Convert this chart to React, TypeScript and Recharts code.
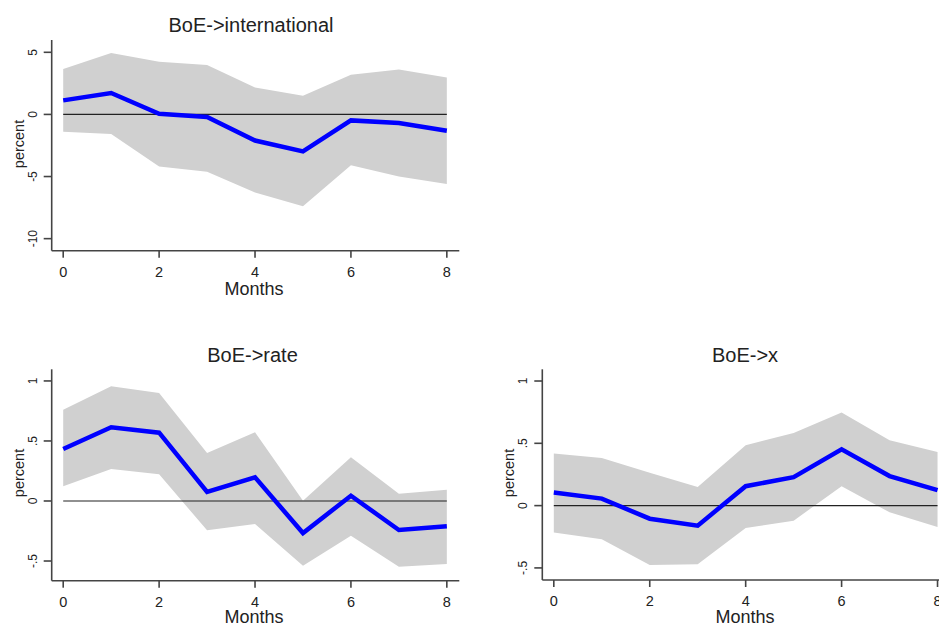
import React from 'react';
import { ComposedChart, Area, Line, XAxis, YAxis, ReferenceLine } from 'recharts';

const months = [0, 1, 2, 3, 4, 5, 6, 7, 8];
const monthTicks = [0, 2, 4, 6, 8];

// BoE -> international
const intlMean = [1.13, 1.72, 0.05, -0.2, -2.1, -2.98, -0.48, -0.7, -1.31];
const intlUpper = [3.65, 4.94, 4.24, 3.97, 2.17, 1.5, 3.2, 3.62, 2.98];
const intlLower = [-1.39, -1.58, -4.19, -4.61, -6.28, -7.4, -4.1, -4.99, -5.6];
const intlTicks = [5, 0, -5, -10];
const intlTickLabels = ['5', '0', '-5', '-10'];

// BoE -> rate
const rateMean = [0.433, 0.614, 0.569, 0.075, 0.197, -0.267, 0.044, -0.242, -0.211];
const rateUpper = [0.761, 0.956, 0.9, 0.4, 0.572, 0.003, 0.364, 0.061, 0.094];
const rateLower = [0.122, 0.267, 0.222, -0.244, -0.192, -0.539, -0.289, -0.547, -0.525];

// BoE -> x
const xMean = [0.105, 0.056, -0.105, -0.161, 0.156, 0.228, 0.452, 0.237, 0.124];
const xUpper = [0.419, 0.382, 0.263, 0.15, 0.484, 0.583, 0.747, 0.524, 0.43];
const xLower = [-0.215, -0.269, -0.476, -0.47, -0.18, -0.121, 0.156, -0.054, -0.172];

const smallTicks = [1, 0.5, 0, -0.5];
const smallTickLabels = ['1', '.5', '0', '-.5'];

const FONT = '"Liberation Sans", Arial, sans-serif';
const AXIS = '#444444';

const build = (mean: number[], lo: number[], hi: number[]) =>
  months.map((m, i) => ({ month: m, mean: mean[i], band: [lo[i], hi[i]] }));

const YTick = ({ x, y, payload, ticks, labels }: any) => {
  const label = labels[ticks.indexOf(payload.value)];
  return (
    <text
      x={x}
      y={y}
      transform={`rotate(-90 ${x} ${y})`}
      textAnchor="middle"
      fontSize={12}
      fontFamily={FONT}
      fill="#222"
    >
      {label}
    </text>
  );
};

type PanelProps = {
  left: number;
  top: number;
  width: number;
  height: number;
  yWidth: number;
  xHeight: number;
  marginTop: number;
  marginRight: number;
  domain: [number, number];
  ticks: number[];
  labels: string[];
  mean: number[];
  lo: number[];
  hi: number[];
};

const Panel = (p: PanelProps) => (
  <div style={{ position: 'absolute', left: p.left, top: p.top }}>
    <ComposedChart
      width={p.width}
      height={p.height}
      data={build(p.mean, p.lo, p.hi)}
      margin={{ top: p.marginTop, right: p.marginRight, left: 0, bottom: 0 }}
    >
      <XAxis
        dataKey="month"
        type="number"
        domain={[-0.24, 8.26]}
        ticks={monthTicks}
        height={p.xHeight}
        stroke={AXIS}
        strokeWidth={1.6}
        tickSize={7}
        tickMargin={9}
        tick={{ fontSize: 14.5, fontFamily: FONT, fill: '#222' }}
      />
      <YAxis
        type="number"
        domain={p.domain}
        ticks={p.ticks}
        width={p.yWidth}
        stroke={AXIS}
        strokeWidth={1.6}
        tickSize={8}
        tickMargin={7}
        tick={<YTick ticks={p.ticks} labels={p.labels} />}
        allowDataOverflow
      />
      <Area
        dataKey="band"
        stroke="none"
        fill="#d0d0d0"
        fillOpacity={1}
        isAnimationActive={false}
      />
      <ReferenceLine
        segment={[
          { x: months[0], y: 0 },
          { x: months[months.length - 1], y: 0 },
        ]}
        stroke="#222"
        strokeWidth={1.2}
      />
      <Line
        dataKey="mean"
        stroke="#0000ff"
        strokeWidth={4.5}
        dot={false}
        isAnimationActive={false}
      />
    </ComposedChart>
  </div>
);

export default function App() {
  return (
    <div
      style={{
        position: 'absolute',
        left: 0,
        top: 0,
        width: 939,
        height: 627,
        overflow: 'hidden',
        background: '#fff',
      }}
    >
      <Panel
        left={0}
        top={0}
        width={470}
        height={310}
        yWidth={51.7}
        xHeight={59.3}
        marginTop={40}
        marginRight={10.7}
        domain={[-10.97, 5.99]}
        ticks={intlTicks}
        labels={intlTickLabels}
        mean={intlMean}
        lo={intlLower}
        hi={intlUpper}
      />
      <Panel
        left={0}
        top={330}
        width={470}
        height={297}
        yWidth={51.7}
        xHeight={46.3}
        marginTop={39.3}
        marginRight={10.7}
        domain={[-0.664, 1.097]}
        ticks={smallTicks}
        labels={smallTickLabels}
        mean={rateMean}
        lo={rateLower}
        hi={rateUpper}
      />
      <Panel
        left={480}
        top={330}
        width={480}
        height={297}
        yWidth={62.3}
        xHeight={47}
        marginTop={39.3}
        marginRight={10}
        domain={[-0.597, 1.094]}
        ticks={smallTicks}
        labels={smallTickLabels}
        mean={xMean}
        lo={xLower}
        hi={xUpper}
      />
      <svg
        width={939}
        height={627}
        style={{ position: 'absolute', left: 0, top: 0, pointerEvents: 'none' }}
        fontFamily={FONT}
        fill="#222"
      >
        <text x={251} y={31.7} textAnchor="middle" fontSize={20}>BoE-&gt;international</text>
        <text x={252.5} y={361.7} textAnchor="middle" fontSize={20}>BoE-&gt;rate</text>
        <text x={745} y={361.7} textAnchor="middle" fontSize={20}>BoE-&gt;x</text>

        <text x={254} y={295} textAnchor="middle" fontSize={18}>Months</text>
        <text x={254} y={623} textAnchor="middle" fontSize={18}>Months</text>
        <text x={745} y={623} textAnchor="middle" fontSize={18}>Months</text>

        <text x={24} y={144} textAnchor="middle" fontSize={14.5} transform="rotate(-90 24 144)">percent</text>
        <text x={24} y={473} textAnchor="middle" fontSize={14.5} transform="rotate(-90 24 473)">percent</text>
        <text x={514} y={473} textAnchor="middle" fontSize={14.5} transform="rotate(-90 514 473)">percent</text>
      </svg>
    </div>
  );
}
